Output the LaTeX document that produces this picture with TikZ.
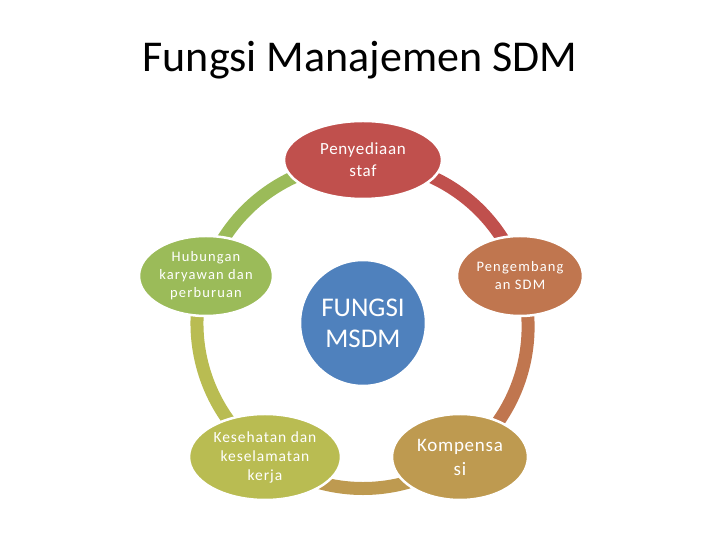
\documentclass[tikz,border=0pt]{standalone}
\usepackage{fontspec}
\setmainfont{Carlito}
\usetikzlibrary{shapes.geometric}
\definecolor{cRed}{HTML}{C0504D}
\definecolor{cOrange}{HTML}{C0764F}
\definecolor{cTan}{HTML}{BE9A50}
\definecolor{cOlive}{HTML}{B9BC52}
\definecolor{cGreen}{HTML}{9BBB59}
\definecolor{cBlue}{HTML}{4F81BD}
\tikzset{
  bub/.style={ellipse, draw=white, line width=2.5pt, inner sep=0pt, text=white, align=center},
  ring/.style={line width=13pt},
}
\begin{document}
\begin{tikzpicture}[x=1pt,y=1pt]
\useasboundingbox (0,0) rectangle (720,540);
\node[font=\fontsize{44}{50}\selectfont] (title) at (360,480) {Fungsi Manajemen SDM};
\coordinate (C) at (363,213);
\path
  (363,378) coordinate (pt)
  (520,264) coordinate (pr)
  (460,83)  coordinate (pbr)
  (265,83)  coordinate (pbl)
  (206,264) coordinate (pl);
% ring arcs
\draw[ring, cRed]    (pt)  arc[start angle=90,  end angle=18,   radius=165];
\draw[ring, cOrange] (pr)  arc[start angle=18,  end angle=-54,  radius=165];
\draw[ring, cTan]    (pbr) arc[start angle=-54, end angle=-126, radius=165];
\draw[ring, cOlive]  (pbl) arc[start angle=-126,end angle=-198, radius=165];
\draw[ring, cGreen]  (pl)  arc[start angle=162, end angle=90,   radius=165];
% ellipses
\node[bub, fill=cRed, minimum width=158, minimum height=78, font=\fontsize{17}{22}\selectfont\addfontfeature{LetterSpace=4}] (top) at ([yshift=2]pt)
  {Penyediaan\\staf};
\node[bub, fill=cOrange, minimum width=126, minimum height=80, font=\fontsize{14.5}{18}\selectfont\addfontfeature{LetterSpace=8}] (right) at (pr)
  {Pengembang\\an SDM};
\node[bub, fill=cTan, minimum width=136, minimum height=86, font=\fontsize{19}{24}\selectfont\addfontfeature{LetterSpace=4}] (br) at (pbr)
  {Kompensa\\si};
\node[bub, fill=cOlive, minimum width=152, minimum height=86, font=\fontsize{15.5}{19}\selectfont\addfontfeature{LetterSpace=6}] (bl) at (pbl)
  {Kesehatan dan\\keselamatan\\kerja};
\node[bub, fill=cGreen, minimum width=134, minimum height=80, font=\fontsize{14.5}{18}\selectfont\addfontfeature{LetterSpace=8}] (left) at (pl)
  {Hubungan\\karyawan dan\\perburuan};
\node[circle, fill=cBlue, draw=white, line width=2.5pt, minimum size=126, inner sep=0pt, text=white, align=center, font=\fontsize{27}{31}\selectfont] (mid) at (363,217)
  {FUNGSI\\MSDM};
\end{tikzpicture}
\end{document}
